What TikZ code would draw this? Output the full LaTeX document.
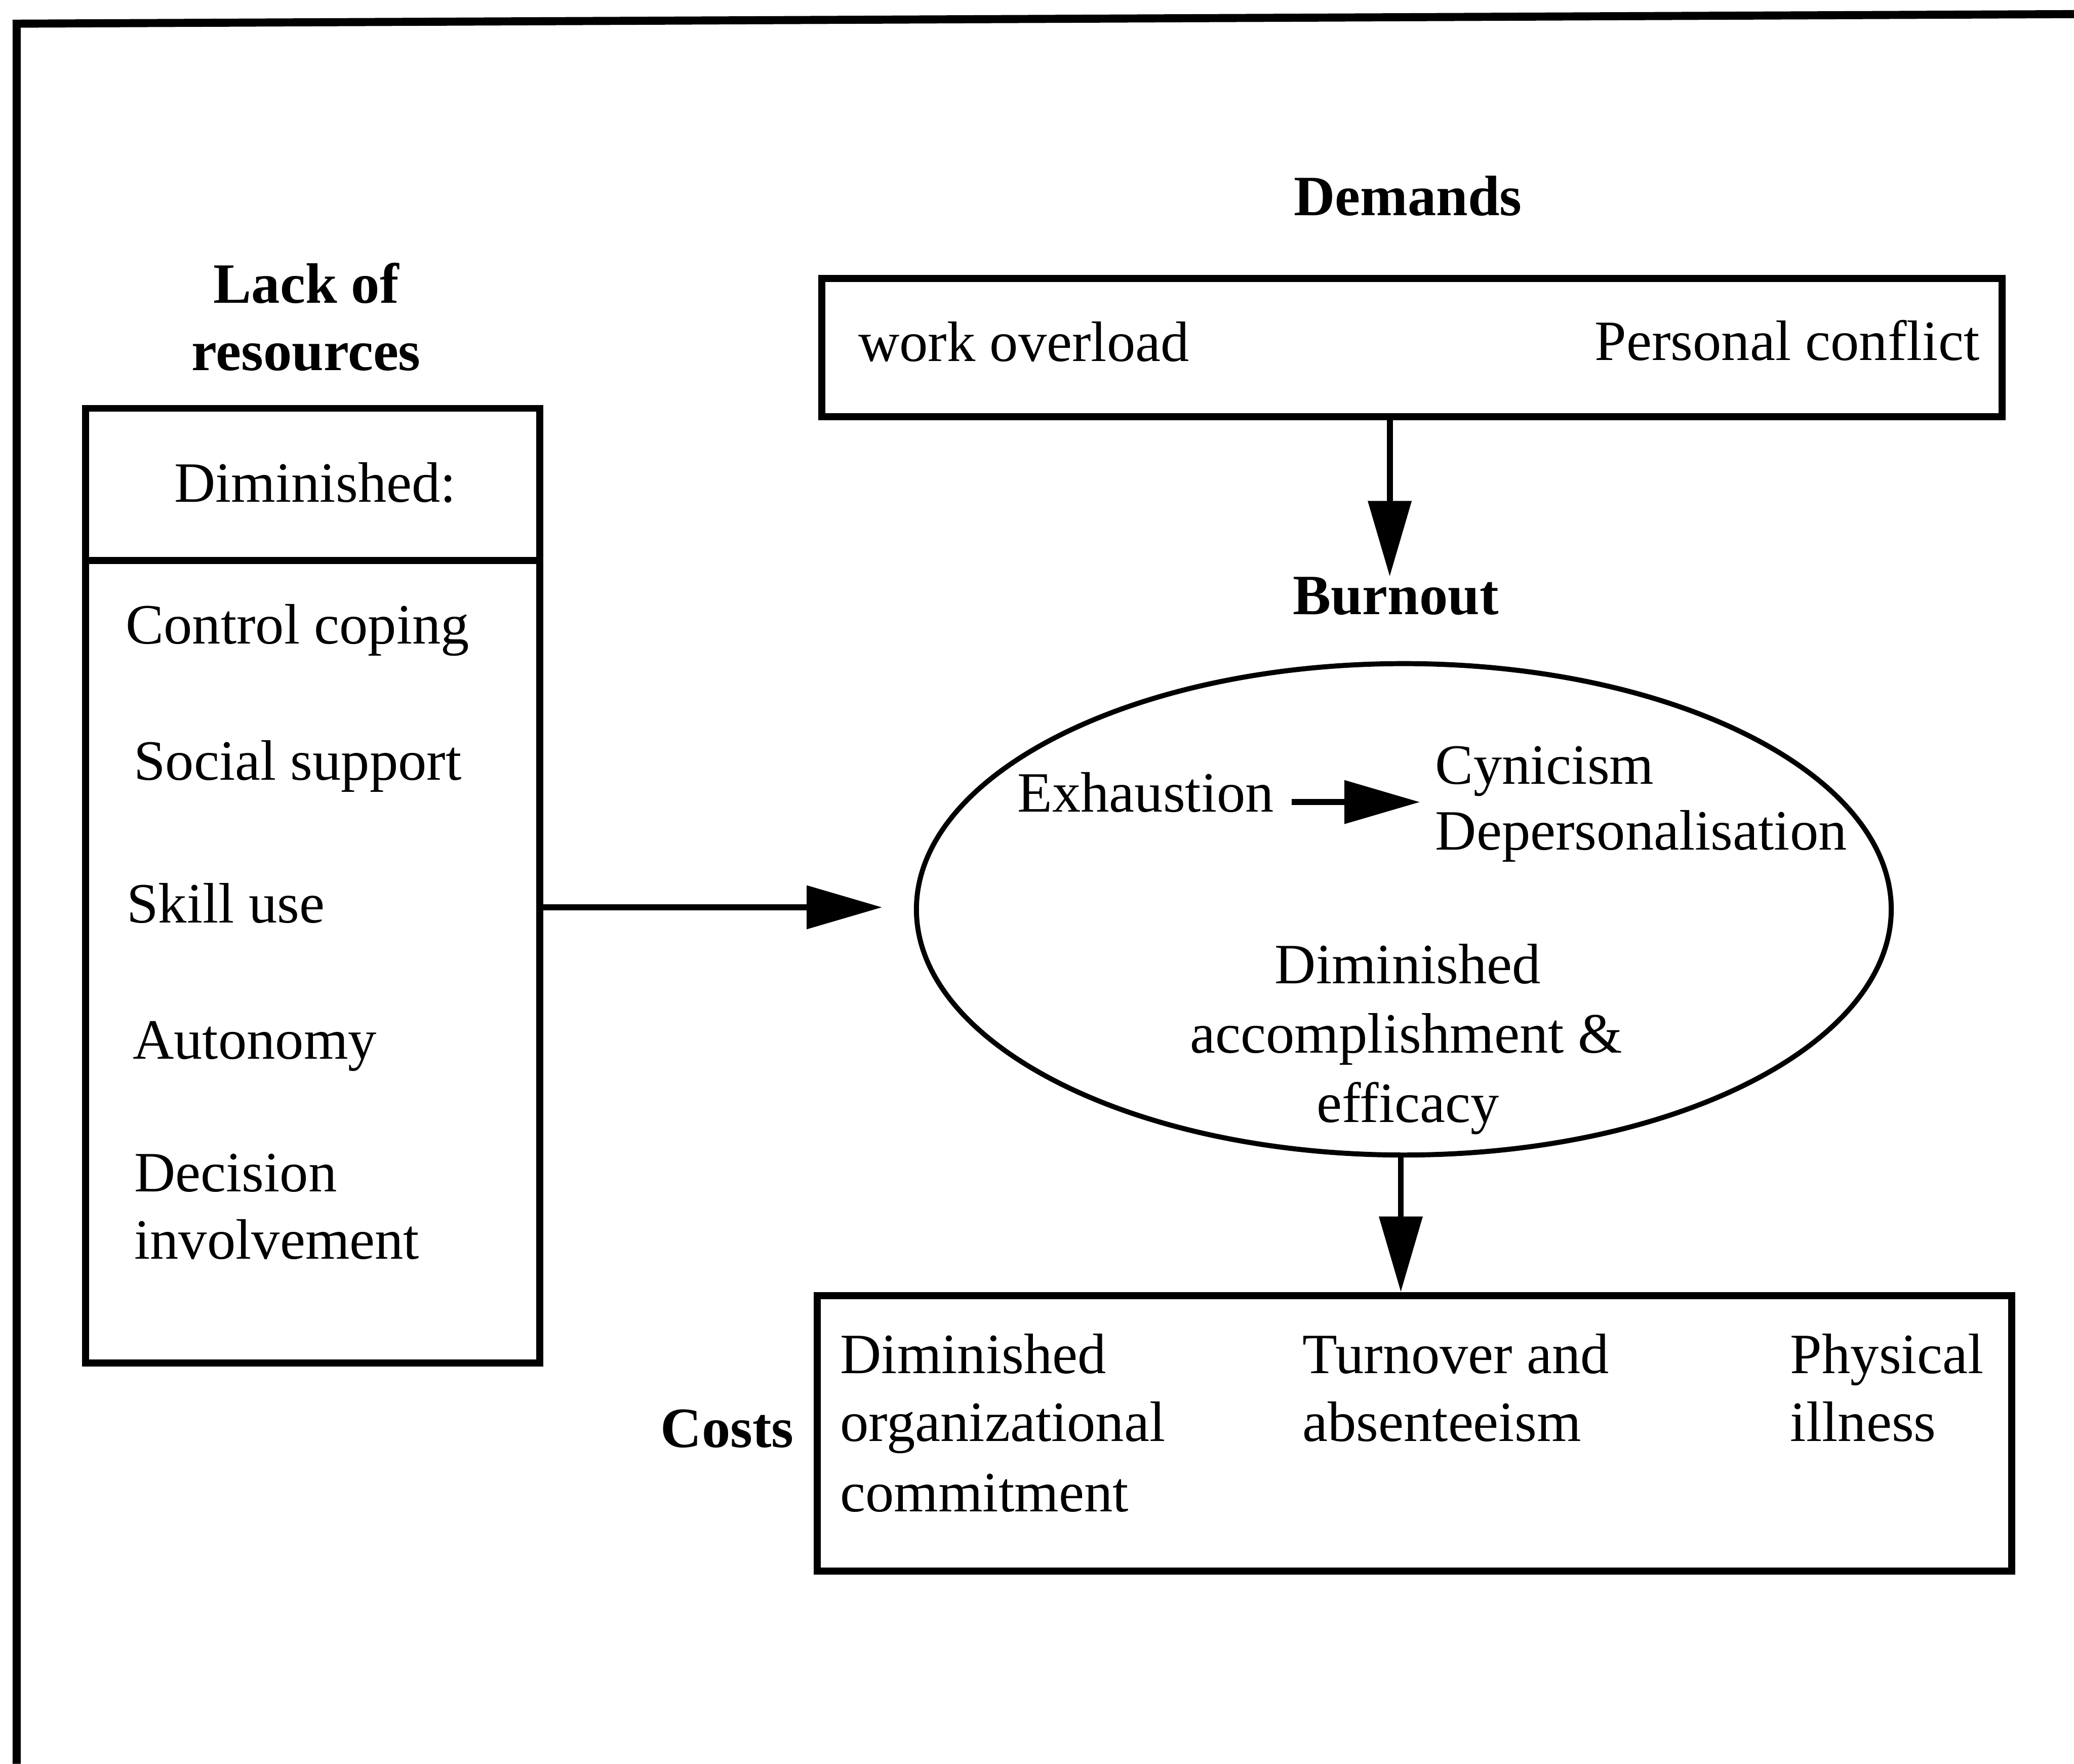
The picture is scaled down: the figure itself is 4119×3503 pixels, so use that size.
\documentclass[tikz,border=0pt]{standalone}
\usepackage{fontspec}
\setmainfont{Liberation Serif}
\usetikzlibrary{arrows.meta,shapes.geometric,fit}
\begin{document}
\begin{tikzpicture}[x=0.25pt,y=-0.25pt,
  txt/.style={font=\fontsize{28.3pt}{34pt}\selectfont, inner sep=0pt, anchor=base west},
  ctxt/.style={txt, anchor=base},
  rtxt/.style={txt, anchor=base east},
  head/.style={ctxt, font=\fontsize{28.3pt}{34pt}\selectfont\bfseries},
  rhead/.style={rtxt, font=\fontsize{28.3pt}{34pt}\selectfont\bfseries},
  boxline/.style={draw, line width=3.5pt, inner sep=0pt},
  conn/.style={line width=3pt, -{Triangle[length=37.5pt,width=21pt]}},
  frameline/.style={line width=4pt, line join=miter}
]
\useasboundingbox (0,0) rectangle (4119,3503);

% frame (top and left edges of the scanned page)
\draw[frameline] (33,3503) -- (33,47) -- (4119,28);

% Lack of resources
\node[head] (lack1) at (608,602) {Lack of};
\node[head] (lack2) at (608,736) {resources};
\node[boxline, fit={(170,811) (1072,2707)}] (res) {};
\coordinate (divl) at (170,1113);
\coordinate (divr) at (1072,1113);
\draw[line width=3.5pt] (divl) -- (divr);
\node[ctxt] (dimin) at (626,997) {Diminished:};
\node[txt] (r1) at (249,1279) {Control coping};
\node[txt] (r2) at (265,1549) {Social support};
\node[txt] (r3) at (251,1833) {Skill use};
\node[txt] (r4) at (263,2103) {Autonomy};
\node[txt] (r5a) at (266,2367) {Decision};
\node[txt] (r5b) at (266,2500) {involvement};

% Demands
\node[head] (demlbl) at (2796,428) {Demands};
\node[boxline, fit={(1632,553) (3976,828)}] (dem) {};
\node[txt] (d1) at (1704,717) {work overload};
\node[rtxt] (d2) at (3932,715) {Personal conflict};

% Burnout
\node[head] (burnlbl) at (2772,1220) {Burnout};
\node[draw, ellipse, line width=2.5pt, inner sep=0pt,
      minimum width=484pt, minimum height=244pt] (burn) at (2788,1806) {};
\node[txt] (exh) at (2020,1612) {Exhaustion};
\node[txt] (cyn) at (2850,1557) {Cynicism};
\node[txt] (dep) at (2850,1688) {Depersonalisation};
\node[ctxt] (acc1) at (2796,1953) {Diminished};
\node[ctxt] (acc2) at (2793,2091) {accomplishment \&};
\node[ctxt] (acc3) at (2796,2229) {efficacy};

% Costs
\node[rhead] (costlbl) at (1577,2875) {Costs};
\node[boxline, fit={(1623,2573) (3995,3120)}] (cost) {};
\node[txt] (c1a) at (1668,2728) {Diminished};
\node[txt] (c1b) at (1668,2862) {organizational};
\node[txt] (c1c) at (1668,3002) {commitment};
\node[txt] (c2a) at (2586,2728) {Turnover and};
\node[txt] (c2b) at (2586,2862) {absenteeism};
\node[txt] (c3a) at (3555,2728) {Physical};
\node[txt] (c3b) at (3555,2862) {illness};

% connectors
\coordinate (dtip) at (2760,1145);
\draw[conn] (dem.south -| dtip) -- (dtip);
\coordinate (ltip) at (1752,1802);
\draw[conn] (res.east |- ltip) -- (ltip);
\coordinate (etail) at (2565,1593);
\coordinate (etip) at (2820,1593);
\draw[conn] (etail) -- (etip);
\coordinate (cx) at (2782,2400);
\draw[conn] (burn.south -| cx) -- (cost.north -| cx);
\end{tikzpicture}
\end{document}
